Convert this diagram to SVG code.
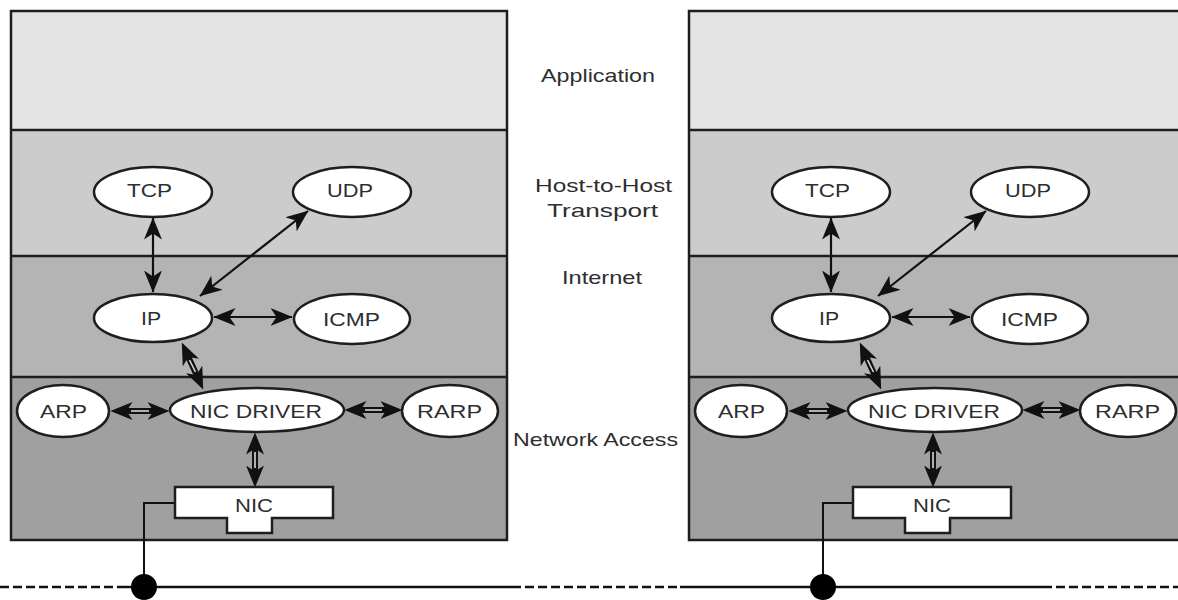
<svg xmlns="http://www.w3.org/2000/svg" width="1178" height="600" viewBox="0 0 1178 600">
  <style>
    .frame { stroke: #1e1e1e; stroke-width: 2.5; }
    .app { fill: #e4e4e4; }
    .host { fill: #cccccc; }
    .inet { fill: #b4b4b4; }
    .net { fill: #a0a0a0; }
    .node { fill: #ffffff; stroke: #1e1e1e; stroke-width: 2.5; }
    .lbl { font-family: "Liberation Sans", Arial, sans-serif; font-size: 19px; fill: #2e2e2e; }
    .wire { stroke: #111; stroke-width: 2; fill: none; }
    .link { stroke: #111; stroke-width: 2.2; fill: none; marker-start: url(#head); marker-end: url(#head); }
    .tips { stroke: none; fill: none; marker-start: url(#head); marker-end: url(#head); }
    .shaft { stroke: #111; stroke-width: 6; fill: none; }
    .core { stroke: #d8d8d8; stroke-width: 1.6; fill: none; }
    .bus { stroke: #111; stroke-width: 2.5; fill: none; }
    .busdash { stroke: #111; stroke-width: 2.5; fill: none; stroke-dasharray: 9 4; }
  </style>
  <defs>
    <marker id="head" markerUnits="userSpaceOnUse" markerWidth="22" markerHeight="18" viewBox="0 0 22 18" refX="21.5" refY="9" orient="auto-start-reverse">
      <path d="M0,0 L22,9 L0,18 L6,9 z" fill="#111"/>
    </marker>
  </defs>

  <!-- layer bands, left host -->
  <g id="host-a-layers">
    <rect class="app" x="11" y="11" width="496" height="119"/>
    <rect class="host" x="11" y="130" width="496" height="126"/>
    <rect class="inet" x="11" y="256" width="496" height="121"/>
    <rect class="net" x="11" y="377" width="496" height="163"/>
    <rect x="11" y="11" width="496" height="529" fill="none" class="frame"/>
    <line x1="11" y1="130" x2="507" y2="130" class="frame"/>
    <line x1="11" y1="256" x2="507" y2="256" class="frame"/>
    <line x1="11" y1="377" x2="507" y2="377" class="frame"/>
  </g>

  <!-- layer bands, right host -->
  <g id="host-b-layers">
    <rect class="app" x="689" y="11" width="510" height="119"/>
    <rect class="host" x="689" y="130" width="510" height="126"/>
    <rect class="inet" x="689" y="256" width="510" height="121"/>
    <rect class="net" x="689" y="377" width="510" height="163"/>
    <rect x="689" y="11" width="510" height="529" fill="none" class="frame"/>
    <line x1="689" y1="130" x2="1199" y2="130" class="frame"/>
    <line x1="689" y1="256" x2="1199" y2="256" class="frame"/>
    <line x1="689" y1="377" x2="1199" y2="377" class="frame"/>
  </g>

  <!-- layer names -->
  <g id="layer-names">
    <text class="lbl" x="541" y="82" textLength="114" lengthAdjust="spacingAndGlyphs">Application</text>
    <text class="lbl" x="535" y="192" textLength="137" lengthAdjust="spacingAndGlyphs">Host-to-Host</text>
    <text class="lbl" x="547" y="217" textLength="111" lengthAdjust="spacingAndGlyphs">Transport</text>
    <text class="lbl" x="562" y="284" textLength="80" lengthAdjust="spacingAndGlyphs">Internet</text>
    <text class="lbl" x="513" y="446" textLength="165" lengthAdjust="spacingAndGlyphs">Network Access</text>
  </g>

  <!-- shared network cable -->
  <g id="cable">
    <line class="busdash" x1="0" y1="587" x2="120" y2="587"/>
    <line class="bus" x1="120" y1="587" x2="512" y2="587"/>
    <line class="busdash" x1="512" y1="587" x2="680" y2="587"/>
    <line class="bus" x1="680" y1="587" x2="1043" y2="587"/>
    <line class="busdash" x1="1043" y1="587" x2="1178" y2="587"/>
  </g>

  <!-- left host: protocol nodes -->
  <g id="host-a">
    <g id="a-connectors">
      <line class="link" x1="153" y1="218" x2="153" y2="292"/>
      <line class="link" x1="200" y1="296" x2="308" y2="211"/>
      <line class="link" x1="214" y1="317" x2="292" y2="317"/>
      <!-- hollow double-headed links -->
      <line class="shaft" x1="187" y1="354" x2="198" y2="378"/>
      <line class="core" x1="189.5" y1="360" x2="195.5" y2="372"/>
      <line class="tips" x1="182" y1="343" x2="203" y2="389"/>
      <line class="shaft" x1="124" y1="411" x2="156" y2="411"/>
      <line class="core" x1="131" y1="411" x2="149" y2="411"/>
      <line class="tips" x1="111" y1="411" x2="169" y2="411"/>
      <line class="shaft" x1="358" y1="410" x2="389" y2="410"/>
      <line class="core" x1="365" y1="410" x2="382" y2="410"/>
      <line class="tips" x1="345" y1="410" x2="402" y2="410"/>
      <line class="shaft" x1="255" y1="446" x2="255" y2="474"/>
      <line class="core" x1="255" y1="452" x2="255" y2="468"/>
      <line class="tips" x1="255" y1="433" x2="255" y2="487"/>
      <polyline class="wire" points="175,503 144,503 144,587"/>
    </g>
    <g id="a-tcp"><ellipse class="node" cx="153" cy="192" rx="59" ry="25"/><text class="lbl" x="127" y="197" textLength="45" lengthAdjust="spacingAndGlyphs">TCP</text></g>
    <g id="a-udp"><ellipse class="node" cx="352" cy="192" rx="59" ry="25"/><text class="lbl" x="327" y="197" textLength="46" lengthAdjust="spacingAndGlyphs">UDP</text></g>
    <g id="a-ip"><ellipse class="node" cx="153" cy="318" rx="59" ry="24"/><text class="lbl" x="141" y="325" textLength="20" lengthAdjust="spacingAndGlyphs">IP</text></g>
    <g id="a-icmp"><ellipse class="node" cx="352" cy="319" rx="58" ry="25"/><text class="lbl" x="323" y="326" textLength="57" lengthAdjust="spacingAndGlyphs">ICMP</text></g>
    <g id="a-arp"><ellipse class="node" cx="63" cy="411" rx="46" ry="26"/><text class="lbl" x="40" y="418" textLength="47" lengthAdjust="spacingAndGlyphs">ARP</text></g>
    <g id="a-nicdriver"><ellipse class="node" cx="257" cy="410" rx="87" ry="22"/><text class="lbl" x="190" y="418" textLength="132" lengthAdjust="spacingAndGlyphs">NIC DRIVER</text></g>
    <g id="a-rarp"><ellipse class="node" cx="450" cy="411" rx="48" ry="26"/><text class="lbl" x="417" y="418" textLength="65" lengthAdjust="spacingAndGlyphs">RARP</text></g>
    <g id="a-nic"><path class="node" d="M175,487 H333 V518 H272 V533 H227 V518 H175 Z"/><text class="lbl" x="235" y="512" textLength="38" lengthAdjust="spacingAndGlyphs">NIC</text></g>
    <circle id="a-tap" cx="144" cy="587" r="13" fill="#000"/>
  </g>

  <!-- right host: protocol nodes -->
  <g id="host-b" transform="translate(678,0)">
    <g id="b-connectors">
      <line class="link" x1="153" y1="218" x2="153" y2="292"/>
      <line class="link" x1="200" y1="296" x2="308" y2="211"/>
      <line class="link" x1="214" y1="317" x2="292" y2="317"/>
      <line class="shaft" x1="187" y1="354" x2="198" y2="378"/>
      <line class="core" x1="189.5" y1="360" x2="195.5" y2="372"/>
      <line class="tips" x1="182" y1="343" x2="203" y2="389"/>
      <line class="shaft" x1="124" y1="411" x2="156" y2="411"/>
      <line class="core" x1="131" y1="411" x2="149" y2="411"/>
      <line class="tips" x1="111" y1="411" x2="169" y2="411"/>
      <line class="shaft" x1="358" y1="410" x2="389" y2="410"/>
      <line class="core" x1="365" y1="410" x2="382" y2="410"/>
      <line class="tips" x1="345" y1="410" x2="402" y2="410"/>
      <line class="shaft" x1="255" y1="446" x2="255" y2="474"/>
      <line class="core" x1="255" y1="452" x2="255" y2="468"/>
      <line class="tips" x1="255" y1="433" x2="255" y2="487"/>
      <polyline class="wire" points="175,503 145,503 145,587"/>
    </g>
    <g id="b-tcp"><ellipse class="node" cx="153" cy="192" rx="59" ry="25"/><text class="lbl" x="127" y="197" textLength="45" lengthAdjust="spacingAndGlyphs">TCP</text></g>
    <g id="b-udp"><ellipse class="node" cx="352" cy="192" rx="59" ry="25"/><text class="lbl" x="327" y="197" textLength="46" lengthAdjust="spacingAndGlyphs">UDP</text></g>
    <g id="b-ip"><ellipse class="node" cx="153" cy="318" rx="59" ry="24"/><text class="lbl" x="141" y="325" textLength="20" lengthAdjust="spacingAndGlyphs">IP</text></g>
    <g id="b-icmp"><ellipse class="node" cx="352" cy="319" rx="58" ry="25"/><text class="lbl" x="323" y="326" textLength="57" lengthAdjust="spacingAndGlyphs">ICMP</text></g>
    <g id="b-arp"><ellipse class="node" cx="63" cy="411" rx="46" ry="26"/><text class="lbl" x="40" y="418" textLength="47" lengthAdjust="spacingAndGlyphs">ARP</text></g>
    <g id="b-nicdriver"><ellipse class="node" cx="257" cy="410" rx="87" ry="22"/><text class="lbl" x="190" y="418" textLength="132" lengthAdjust="spacingAndGlyphs">NIC DRIVER</text></g>
    <g id="b-rarp"><ellipse class="node" cx="450" cy="411" rx="48" ry="26"/><text class="lbl" x="417" y="418" textLength="65" lengthAdjust="spacingAndGlyphs">RARP</text></g>
    <g id="b-nic"><path class="node" d="M175,487 H333 V518 H272 V533 H227 V518 H175 Z"/><text class="lbl" x="235" y="512" textLength="38" lengthAdjust="spacingAndGlyphs">NIC</text></g>
    <circle id="b-tap" cx="145" cy="587" r="13" fill="#000"/>
  </g>
</svg>
